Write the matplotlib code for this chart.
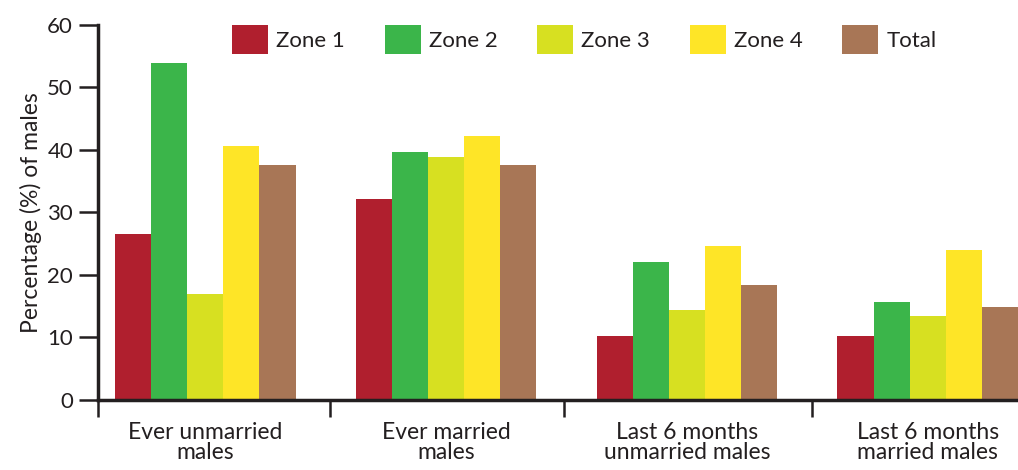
import numpy as np
import matplotlib
matplotlib.use('Agg')
import matplotlib.pyplot as plt

plt.rcParams['font.family'] = ['Lato', 'DejaVu Sans']

categories = ['Ever unmarried\nmales', 'Ever married\nmales',
              'Last 6 months\nunmarried males', 'Last 6 months\nmarried males']
series_names = ['Zone 1', 'Zone 2', 'Zone 3', 'Zone 4', 'Total']
zone1 = [26.6, 32.2, 10.2, 10.2]
zone2 = [53.9, 39.7, 22.1, 15.7]
zone3 = [17.0, 38.9, 14.4, 13.4]
zone4 = [40.6, 42.2, 24.6, 24.0]
total = [37.6, 37.6, 18.4, 14.9]
colors = ['#B01F2E', '#3BB54A', '#D7E021', '#FEE527', '#A87656']

ink = '#231F20'
fig = plt.figure(figsize=(10.18, 4.70), dpi=100)
ax = fig.add_axes([0.0963, 0.149, 0.9037, 0.798])

x = np.arange(len(categories))
width = 0.15
for i, (vals, name) in enumerate(zip([zone1, zone2, zone3, zone4, total], series_names)):
    ax.bar(x + (i - 2) * width, vals, width, color=colors[i], label=name)

ax.set_ylim(0, 60)
ax.set_xlim(-0.445, 3.375)
ax.set_yticks(range(0, 61, 10))
ax.set_xticks(x)
ax.set_xticklabels(categories, fontsize=16.5, color=ink, linespacing=0.95)
ax.tick_params(axis='x', which='major', length=0, pad=16)
ax.set_xticks([-0.445, 0.52, 1.49, 2.52], minor=True)
ax.tick_params(axis='x', which='minor', length=12, width=1.8, color=ink, direction='out')
ax.tick_params(axis='y', length=14, width=1.8, color=ink, labelsize=16, labelcolor=ink, pad=4)
ax.set_ylabel('Percentage (%) of males', fontsize=16.5, color=ink, labelpad=4)

for s in ['top', 'right']:
    ax.spines[s].set_visible(False)
for s in ['left', 'bottom']:
    ax.spines[s].set_linewidth(2.5)
    ax.spines[s].set_color(ink)

leg = ax.legend(ncol=5, loc='upper left', bbox_to_anchor=(0.146, 1.0), frameon=False,
                fontsize=16, handlelength=1.62, handleheight=1.67, handletextpad=0.35,
                columnspacing=1.8, borderpad=0, borderaxespad=0)
for t in leg.get_texts():
    t.set_color(ink)

fig.savefig('out.png', dpi=100)
